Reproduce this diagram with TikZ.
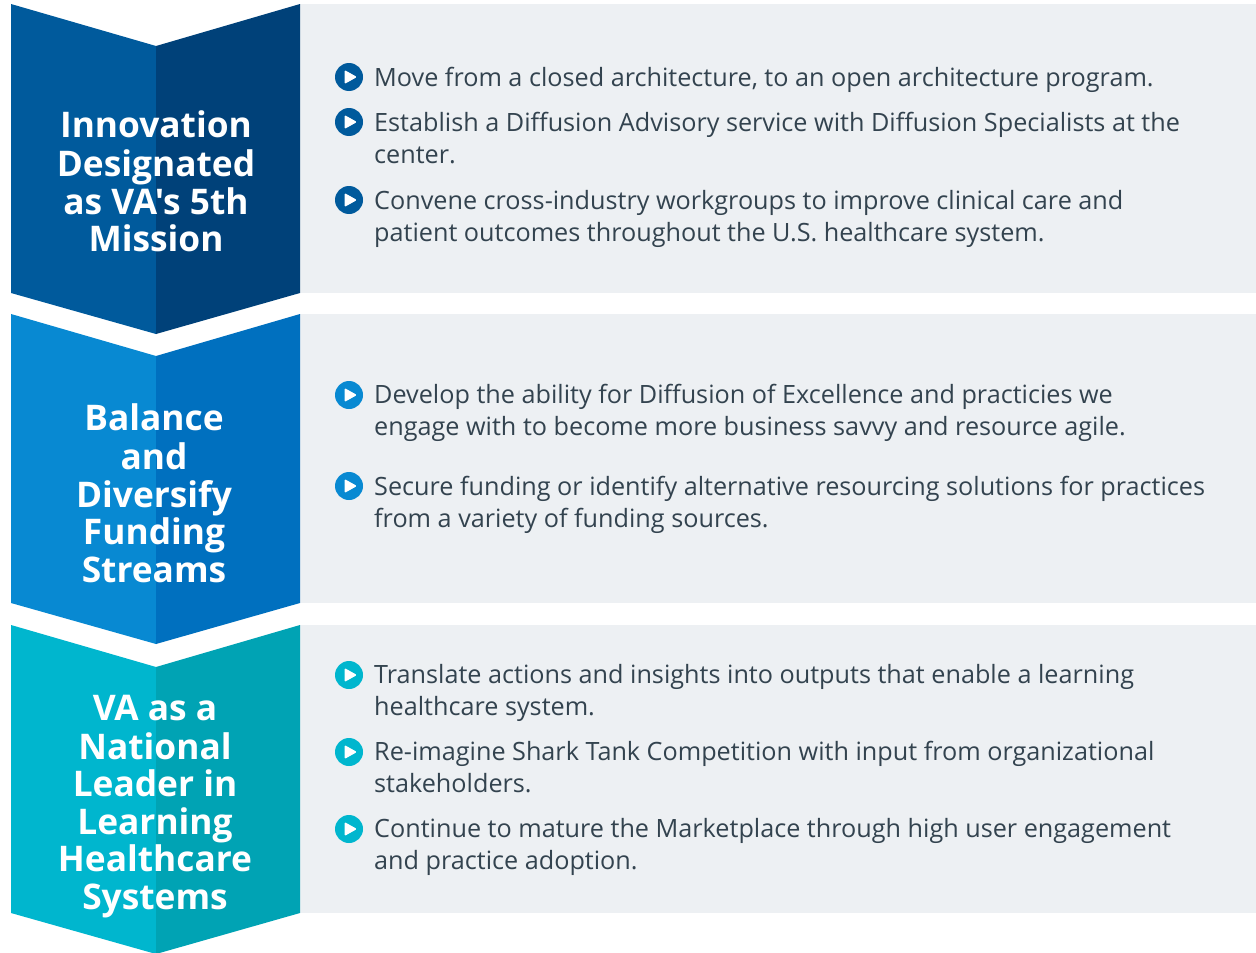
\documentclass[tikz,border=0pt]{standalone}
\usepackage{fontspec}
\setmainfont{Open Sans}
% a second family without TeX ligatures, so ' stays a straight apostrophe
\newfontfamily\headfont{Open Sans}
\definecolor{oneL}{HTML}{005A9C}
\definecolor{oneR}{HTML}{004179}
\definecolor{twoL}{HTML}{0889D2}
\definecolor{twoR}{HTML}{0070BF}
\definecolor{threeL}{HTML}{00B6CE}
\definecolor{threeR}{HTML}{00A3B4}
\definecolor{panelbg}{HTML}{EDF0F3}
\definecolor{bodytext}{HTML}{33434F}
\tikzset{
  heading/.style={anchor=north, inner sep=0pt, align=center, text=white,
    font=\headfont\fontsize{35.3}{37.5}\selectfont\bfseries},
  item/.style={anchor=north west, inner sep=0pt, align=left, text=bodytext,
    font=\fontsize{25.2}{32}\selectfont},
  bulletdot/.style={circle, fill=#1, inner sep=0pt, minimum size=28pt,
    path picture={\fill[white, rounded corners=1.2pt]
      (path picture bounding box.center) ++(-4.5,-7) -- ++(0,14) -- ++(12.5,-7) -- cycle;}}
}
\begin{document}
\begin{tikzpicture}[x=1pt, y=-1pt]
\useasboundingbox (0,0) rectangle (1256,953);

% grey panels
\fill[panelbg] (300,4) rectangle (1256,293);
\fill[panelbg] (300,314) rectangle (1256,603);
\fill[panelbg] (300,625) rectangle (1256,913);

% chevrons, two tones each
\fill[oneL] (11,4) -- (156,46) -- (156,334) -- (11,293) -- cycle;
\fill[oneR] (156,46) -- (300,4) -- (300,293) -- (156,334) -- cycle;
\fill[twoL] (11,314) -- (156,356) -- (156,644) -- (11,603) -- cycle;
\fill[twoR] (156,356) -- (300,314) -- (300,603) -- (156,644) -- cycle;
\fill[threeL] (11,625) -- (156,667) -- (156,954) -- (11,913) -- cycle;
\fill[threeR] (156,667) -- (300,625) -- (300,913) -- (156,954) -- cycle;

% headings
\node[heading] (h1) at (156,110.75) {\strut Innovation\\Designated\\as VA's 5th\\Mission};
\node[heading] (h2) at (154,403.75) {\strut Balance\\and\\Diversify\\Funding\\Streams};
\node[heading] (h3) at (155,693.75) {\strut VA as a\\National\\Leader in\\Learning\\Healthcare\\Systems};

% first group
\node[bulletdot=oneL] (d11) at (349,77) {};
\node[item] (t11) at (374,63.6) {\strut Move from a closed architecture, to an open architecture program.};
\node[bulletdot=oneL] (d12) at (349,122) {};
\node[item] (t12) at (374,108.6) {\strut Establish a Diffusion Advisory service with Diffusion Specialists at the\\center.};
\node[bulletdot=oneL] (d13) at (349,200) {};
\node[item] (t13) at (374,186.6) {\strut Convene cross-industry workgroups to improve clinical care and\\patient outcomes throughout the U.S. healthcare system.};

% second group
\node[bulletdot=twoL] (d21) at (349,395) {};
\node[item] (t21) at (374,380.6) {\strut Develop the ability for Diffusion of Excellence and practicies we\\engage with to become more business savvy and resource agile.};
\node[bulletdot=twoL] (d22) at (349,486) {};
\node[item] (t22) at (374,472.6) {\strut Secure funding or identify alternative resourcing solutions for practices\\from a variety of funding sources.};

% third group
\node[bulletdot=threeL] (d31) at (349,675) {};
\node[item] (t31) at (374,660.6) {\strut Translate actions and insights into outputs that enable a learning\\healthcare system.};
\node[bulletdot=threeL] (d32) at (349,752) {};
\node[item] (t32) at (374,737.6) {\strut Re-imagine Shark Tank Competition with input from organizational\\stakeholders.};
\node[bulletdot=threeL] (d33) at (349,829) {};
\node[item] (t33) at (374,814.6) {\strut Continue to mature the Marketplace through high user engagement\\and practice adoption.};
\end{tikzpicture}
\end{document}
